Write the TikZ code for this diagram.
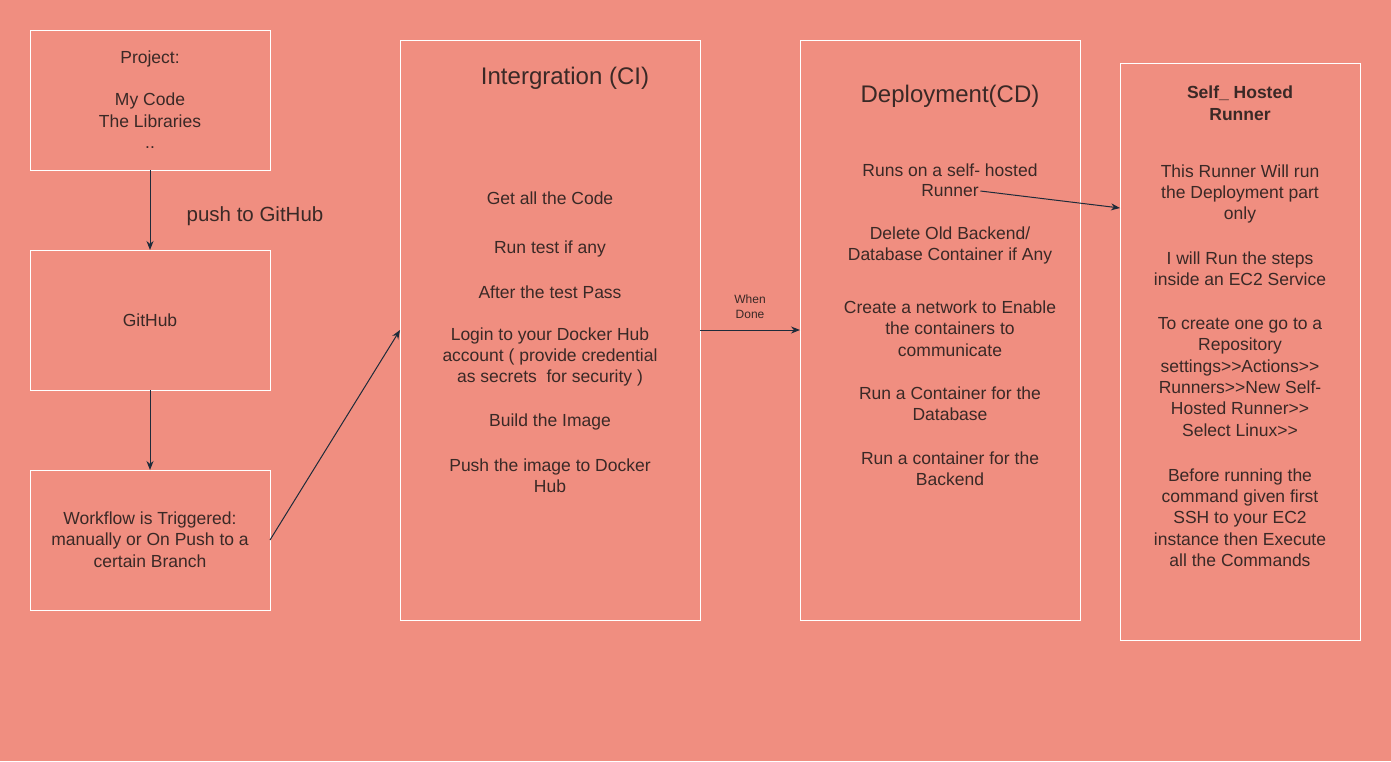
\documentclass[tikz,border=0pt]{standalone}
\usepackage{fontspec}
\setmainfont{Liberation Sans}
\usetikzlibrary{arrows.meta}
\definecolor{bgsalmon}{HTML}{F08E80}
\definecolor{txtdark}{HTML}{3A2926}
\definecolor{arrowdark}{HTML}{1E2B3A}
\begin{document}
\begin{tikzpicture}[x=1pt,y=-1pt,
  box/.style={draw=white,line width=1pt},
  body/.style={text=txtdark,font=\fontsize{17.5}{21.3}\selectfont,align=center,inner sep=0pt},
  titletxt/.style={text=txtdark,font=\fontsize{24}{28}\selectfont,inner sep=0pt},
  boldtxt/.style={text=txtdark,font=\fontsize{17.5}{22}\selectfont\bfseries,align=center,inner sep=0pt},
  smalltxt/.style={text=txtdark,font=\fontsize{12}{14.5}\selectfont,align=center,inner sep=0pt},
  conn/.style={draw=arrowdark,line width=1pt,-{Stealth[length=9pt,width=7pt]}}]
\useasboundingbox (0,0) rectangle (1391,761);
\fill[bgsalmon] (0,0) rectangle (1391,761);

% boxes
\draw[box] (30,30) rectangle (270,170);
\coordinate (projB) at (150,170);
\draw[box] (30,250) rectangle (270,390);
\coordinate (ghT) at (150,250);
\coordinate (ghB) at (150,390);
\draw[box] (30,470) rectangle (270,610);
\coordinate (wfT) at (150,470);
\coordinate (wfR) at (270,540);
\draw[box] (400,40) rectangle (700,620);
\coordinate (ciL) at (400,330);
\coordinate (ciR) at (700,330);
\draw[box] (800,40) rectangle (1080,620);
\coordinate (cdL) at (800,330);
\draw[box] (1120,63) rectangle (1360,640);
\coordinate (shL) at (1120,208);

% project
\node[body] (proj) at (150,99.5) {Project:\\\mbox{}\\My Code\\The Libraries\\..};
\node[body] (gh) at (150,320) {GitHub};
\node[body] (wf) at (150,539.5) {Workflow is Triggered:\\manually or On Push to a\\certain Branch};
\node[text=txtdark,font=\fontsize{20.5}{24}\selectfont,inner sep=0pt] (push) at (255,216) {push to GitHub};

% CI
\node[titletxt] (cititle) at (565,78) {Intergration (CI)};
\node[body] (ci1) at (550,198) {Get all the Code};
\node[body] (ci2) at (550,249) {Run test if any};
\node[body] (ci3) at (550,292) {After the test Pass};
\node[body] (ci4) at (550,357) {Login to your Docker Hub\\account ( provide credential\\as secrets\ \ for security )};
\node[body] (ci5) at (550,422) {Build the Image};
\node[body] (ci6) at (550,475.5) {Push the image to Docker\\Hub};

% CD
\node[titletxt] (cdtitle) at (950,96) {Deployment(CD)};
\node[body] (cd1a) at (950,170) {Runs on a self- hosted};
\node[body,inner xsep=1.5pt] (cd1b) at (950,191) {Runner};
\node[body] (cd2) at (950,245.5) {Delete Old Backend/\\Database Container if Any};
\node[body] (cd3) at (950,328.5) {Create a network to Enable\\the containers to\\communicate};
\node[body] (cd4) at (950,403.5) {Run a Container for the\\Database};
\node[body] (cd5) at (950,468.5) {Run a container for the\\Backend};

% Self hosted
\node[boldtxt] (shtitle) at (1240,103) {Self\_ Hosted\\Runner};
\node[body] (sh1) at (1240,194) {This Runner Will run\\the Deployment part\\only};
\node[body] (sh2) at (1240,269) {I will Run the steps\\inside an EC2 Service};
\node[body] (sh3) at (1240,377) {To create one go to a\\Repository\\settings>{}>Actions>{}>\\Runners>{}>New Self-\\Hosted Runner>{}>\\Select Linux>{}>};
\node[body] (sh4) at (1240,517.5) {Before running the\\command given first\\SSH to your EC2\\instance then Execute\\all the Commands};

% connectors
\draw[conn] (projB) -- (ghT);
\draw[conn] (ghB) -- (wfT);
\draw[conn] (wfR) -- (ciL);
\draw[conn] (ciR) -- node[smalltxt,above=11pt] (whendone) {When\\Done} (cdL);
\draw[conn] (cd1b.east) -- (shL);
\end{tikzpicture}
\end{document}
